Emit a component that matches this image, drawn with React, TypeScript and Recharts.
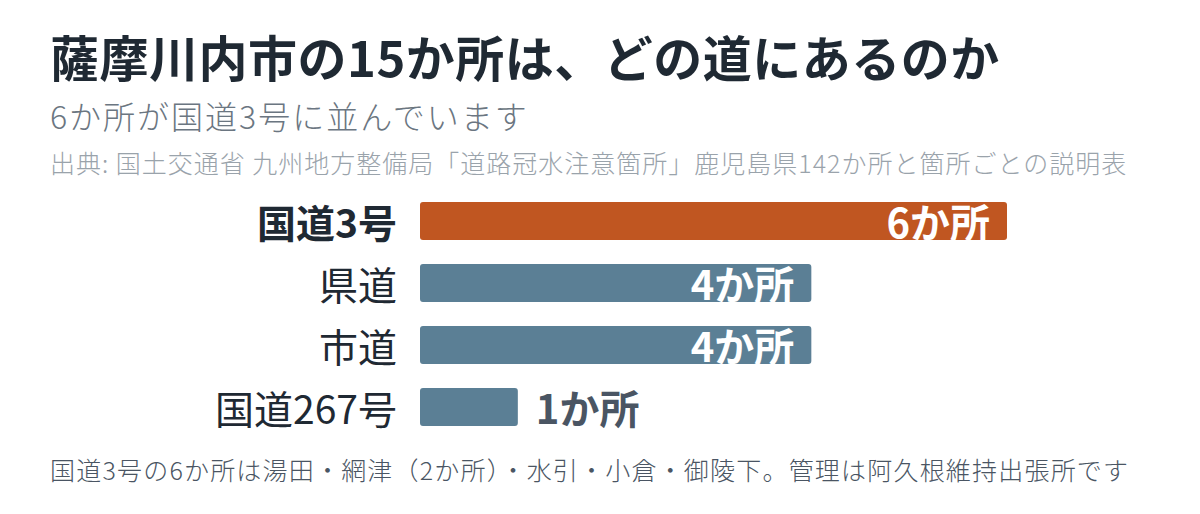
import React from "react";
import { BarChart, Bar, XAxis, YAxis, Cell, LabelList } from "recharts";

const categories = ["国道3号", "県道", "市道", "国道267号"];
const counts = [6, 4, 4, 1];
const highlight = [true, false, false, false];
const xTicks = [0, 6];

const titleText = "薩摩川内市の15か所は、どの道にあるのか";
const subtitleText = "6か所が国道3号に並んでいます";
const sourceText = "出典: 国土交通省 九州地方整備局「道路冠水注意箇所」鹿児島県142か所と箇所ごとの説明表";
const footerText = "国道3号の6か所は湯田・網津（2か所）・水引・小倉・御陵下。管理は阿久根維持出張所です";

const FONT = '"Noto Sans CJK JP", "Noto Sans", sans-serif';
const ORANGE = "#c05621";
const SLATE = "#5b7f95";
const DARK = "#1f2933";

const data = categories.map((name, i) => ({ name, value: counts[i], hl: highlight[i] }));

const CategoryTick = (props: any) => {
  const { x, y, payload, index } = props;
  const bold = data[index]?.hl;
  return (
    <text
      x={x}
      y={y}
      textAnchor="end"
      dominantBaseline="central"
      fontFamily={FONT}
      fontSize={39}
      fontWeight={bold ? 700 : 400}
      fill={DARK}
    >
      {payload.value}
    </text>
  );
};

const ValueLabel = (props: any) => {
  const { x, y, width, height, value } = props;
  const inside = value >= 3;
  const cy = y + height / 2;
  return (
    <text
      x={inside ? x + width - 17 : x + width + 18}
      y={cy}
      textAnchor={inside ? "end" : "start"}
      dominantBaseline="central"
      fontFamily={FONT}
      fontSize={40}
      fontWeight={700}
      fill={inside ? "#ffffff" : "#4a5563"}
    >
      {`${value}か所`}
    </text>
  );
};

export default function App() {
  return (
    <div
      style={{
        position: "absolute",
        left: 0,
        top: 0,
        width: 1200,
        height: 514,
        background: "#ffffff",
        fontFamily: FONT,
        overflow: "hidden",
      }}
    >
      <div
        style={{
          position: "absolute",
          left: 50,
          top: 31,
          fontSize: 49,
          lineHeight: "49px",
          fontWeight: 700,
          letterSpacing: 0.5,
          color: DARK,
          whiteSpace: "nowrap",
        }}
      >
        {titleText}
      </div>
      <div
        style={{
          position: "absolute",
          left: 50,
          top: 99,
          fontSize: 32,
          lineHeight: "32px",
          fontWeight: 300,
          letterSpacing: 2,
          color: "#6b7681",
          whiteSpace: "nowrap",
        }}
      >
        {subtitleText}
      </div>
      <div
        style={{
          position: "absolute",
          left: 50,
          top: 150,
          fontSize: 25,
          lineHeight: "25px",
          fontWeight: 300,
          letterSpacing: 1,
          color: "#9aa3ab",
          whiteSpace: "nowrap",
        }}
      >
        {sourceText}
      </div>
      <div style={{ position: "absolute", left: 0, top: 190 }}>
        <BarChart
          width={1200}
          height={248}
          data={data}
          layout="vertical"
          margin={{ top: 0, right: 193, bottom: 0, left: 0 }}
          barCategoryGap={24}
        >
          <XAxis type="number" domain={[0, 6]} ticks={xTicks} hide />
          <YAxis
            type="category"
            dataKey="name"
            width={420}
            axisLine={false}
            tickLine={false}
            tickSize={0}
            tickMargin={23}
            tick={<CategoryTick />}
            interval={0}
          />
          <Bar dataKey="value" barSize={38} radius={3} isAnimationActive={false}>
            {data.map((d, i) => (
              <Cell key={i} fill={d.hl ? ORANGE : SLATE} />
            ))}
            <LabelList dataKey="value" content={<ValueLabel />} />
          </Bar>
        </BarChart>
      </div>
      <div
        style={{
          position: "absolute",
          left: 50,
          top: 457,
          fontSize: 25,
          lineHeight: "25px",
          fontWeight: 300,
          letterSpacing: 1.2,
          color: "#4a5563",
          whiteSpace: "nowrap",
        }}
      >
        {footerText}
      </div>
    </div>
  );
}
